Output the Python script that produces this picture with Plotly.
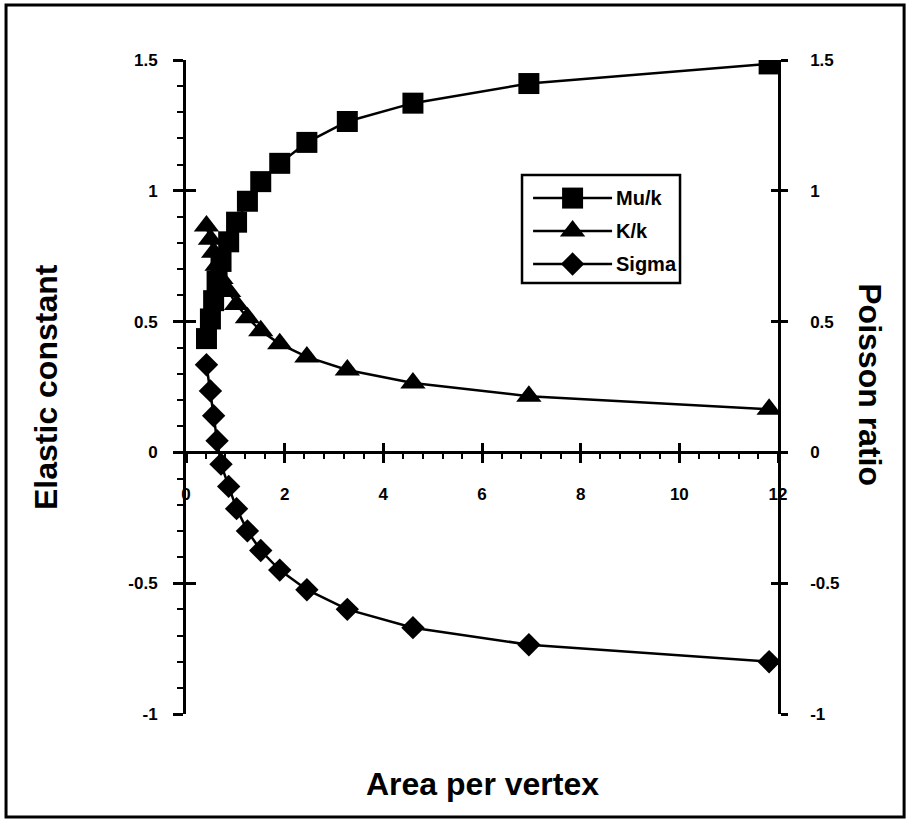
import plotly.graph_objects as go

# Area per vertex and the elastic constants measured at each area
area = [0.415, 0.495, 0.56, 0.63, 0.71, 0.865, 1.025, 1.245, 1.515, 1.90, 2.45, 3.27, 4.60, 6.95, 11.82]
mu_k = [0.435, 0.51, 0.58, 0.655, 0.73, 0.805, 0.88, 0.96, 1.035, 1.105, 1.185, 1.265, 1.335, 1.41, 1.485]
k_k = [0.865, 0.815, 0.765, 0.715, 0.665, 0.615, 0.565, 0.515, 0.465, 0.415, 0.365, 0.315, 0.265, 0.215, 0.165]
sigma = [0.335, 0.235, 0.14, 0.045, -0.045, -0.13, -0.215, -0.30, -0.375, -0.45, -0.525, -0.60, -0.67, -0.735, -0.80]

series_names = ["Mu/k", "K/k", "Sigma"]
series_symbols = ["square", "triangle-up", "diamond"]
series_sizes = [21, 22, 18]

x_tick_vals = [0, 2, 4, 6, 8, 10, 12]
x_tick_text = ["0", "2", "4", "6", "8", "10", "12"]
y_tick_vals = [-1, -0.5, 0, 0.5, 1, 1.5]
y_tick_text = ["-1", "-0.5", "0", "0.5", "1", "1.5"]
y_range = [-1, 1.5]
x_range = [0, 12]

FONT = "Liberation Sans, Arial, Helvetica, sans-serif"
INK = "black"


def bold(labels):
    return [f"<b>{t}</b>" for t in labels]


fig = go.Figure()

line_style = dict(color=INK, width=2.5)
fig.add_trace(go.Scatter(x=area, y=mu_k, mode="lines+markers", name=series_names[0],
                         line=line_style,
                         marker=dict(symbol=series_symbols[0], size=series_sizes[0], color=INK),
                         xaxis="x", yaxis="y"))
fig.add_trace(go.Scatter(x=area, y=k_k, mode="lines+markers", name=series_names[1],
                         line=line_style,
                         marker=dict(symbol=series_symbols[1], size=series_sizes[1], color=INK),
                         xaxis="x", yaxis="y"))
fig.add_trace(go.Scatter(x=area, y=sigma, mode="lines+markers", name=series_names[2],
                         line=line_style,
                         marker=dict(symbol=series_symbols[2], size=series_sizes[2], color=INK),
                         xaxis="x", yaxis="y3"))

# empty traces so the overlay axes (second half of the crossing ticks) get drawn
for xa, ya in [("x2", "y"), ("x", "y2"), ("x", "y4")]:
    fig.add_trace(go.Scatter(x=[], y=[], xaxis=xa, yaxis=ya, hoverinfo="skip"))

# hand-built legend inside its own small axes
legend_rows = [0.787, 0.481, 0.176]
for name, sym, size, row in zip(series_names, series_symbols, series_sizes, legend_rows):
    fig.add_trace(go.Scatter(x=[0.07, 0.57], y=[row, row], mode="lines", line=line_style,
                             xaxis="x5", yaxis="y5", hoverinfo="skip"))
    fig.add_trace(go.Scatter(x=[0.32], y=[row], mode="markers",
                             marker=dict(symbol=sym, size=size, color=INK, line=dict(width=0)),
                             xaxis="x5", yaxis="y5", hoverinfo="skip"))
    fig.add_annotation(x=0.585, y=row, xref="x5", yref="y5", text=f"<b>{name}</b>",
                       showarrow=False, xanchor="left", yanchor="middle",
                       font=dict(family=FONT, size=20, color=INK))

tick_font = dict(family=FONT, size=17, color=INK)
no_grid = dict(showgrid=False, zeroline=False)

fig.update_layout(
    width=910, height=822,
    margin=dict(l=186, r=132, t=60, b=108),
    paper_bgcolor="white", plot_bgcolor="white",
    showlegend=False,
    xaxis=dict(domain=[0, 1], range=x_range, anchor="free", position=0.4,
               showline=True, linecolor=INK, linewidth=2.5,
               tickmode="array", tickvals=x_tick_vals, ticktext=bold(x_tick_text),
               ticks="outside", ticklen=9, tickwidth=2.5, tickcolor=INK,
               minor=dict(ticks="outside", ticklen=5, tickwidth=2, tickcolor=INK,
                          tickmode="linear", tick0=0, dtick=0.4),
               tickfont=tick_font, ticklabelstandoff=16, **no_grid),
    xaxis2=dict(overlaying="x", range=x_range, anchor="free", position=0.4,
                showline=False, tickmode="array", tickvals=x_tick_vals,
                ticks="inside", ticklen=9, tickwidth=2.5, tickcolor=INK,
                showticklabels=False, **no_grid),
    yaxis=dict(domain=[0, 1], range=y_range, anchor="x", side="left",
               showline=True, linecolor=INK, linewidth=3,
               tickmode="array", tickvals=y_tick_vals, ticktext=bold(y_tick_text),
               ticks="outside", ticklen=10, tickwidth=2.5, tickcolor=INK,
               minor=dict(ticks="outside", ticklen=6, tickwidth=2, tickcolor=INK,
                          tickmode="linear", tick0=0, dtick=0.1),
               tickfont=tick_font, ticklabelstandoff=12, **no_grid),
    yaxis2=dict(overlaying="y", range=y_range, anchor="x", side="left",
                showline=False, tickmode="array", tickvals=y_tick_vals,
                ticks="inside", ticklen=10, tickwidth=2.5, tickcolor=INK,
                showticklabels=False, **no_grid),
    yaxis3=dict(overlaying="y", range=y_range, anchor="x", side="right",
                showline=True, linecolor=INK, linewidth=2.5,
                tickmode="array", tickvals=y_tick_vals, ticktext=bold(y_tick_text),
                ticks="outside", ticklen=7, tickwidth=2.5, tickcolor=INK,
                tickfont=tick_font, ticklabelstandoff=19, **no_grid),
    yaxis4=dict(overlaying="y", range=y_range, anchor="x", side="right",
                showline=False, tickmode="array", tickvals=y_tick_vals,
                ticks="inside", ticklen=7, tickwidth=2.5, tickcolor=INK,
                showticklabels=False, **no_grid),
    xaxis5=dict(domain=[0.5676, 0.8345], range=[0, 1], anchor="y5", visible=False),
    yaxis5=dict(domain=[0.659, 0.824], range=[0, 1], anchor="x5", visible=False),
)

# legend frame and outer page frame
fig.add_shape(type="rect", xref="x5 domain", yref="y5 domain", x0=0, x1=1, y0=0, y1=1,
              line=dict(color=INK, width=2.5), fillcolor="rgba(0,0,0,0)")
fig.add_shape(type="rect", xref="paper", yref="paper", x0=-0.304, x1=1.213, y0=-0.1575, y1=1.084,
              line=dict(color=INK, width=3), fillcolor="rgba(0,0,0,0)")

title_font = dict(family=FONT, size=32, color=INK)
fig.add_annotation(x=-0.2365, y=0.5, xref="paper", yref="paper", text="<b>Elastic constant</b>",
                   textangle=-90, showarrow=False, xanchor="center", yanchor="middle", font=title_font)
fig.add_annotation(x=1.155, y=0.503, xref="paper", yref="paper", text="<b>Poisson ratio</b>",
                   textangle=90, showarrow=False, xanchor="center", yanchor="middle", font=title_font)
fig.add_annotation(x=0.501, y=-0.107, xref="paper", yref="paper", text="<b>Area per vertex</b>",
                   showarrow=False, xanchor="center", yanchor="middle", font=title_font)

fig.write_html("out.html")
